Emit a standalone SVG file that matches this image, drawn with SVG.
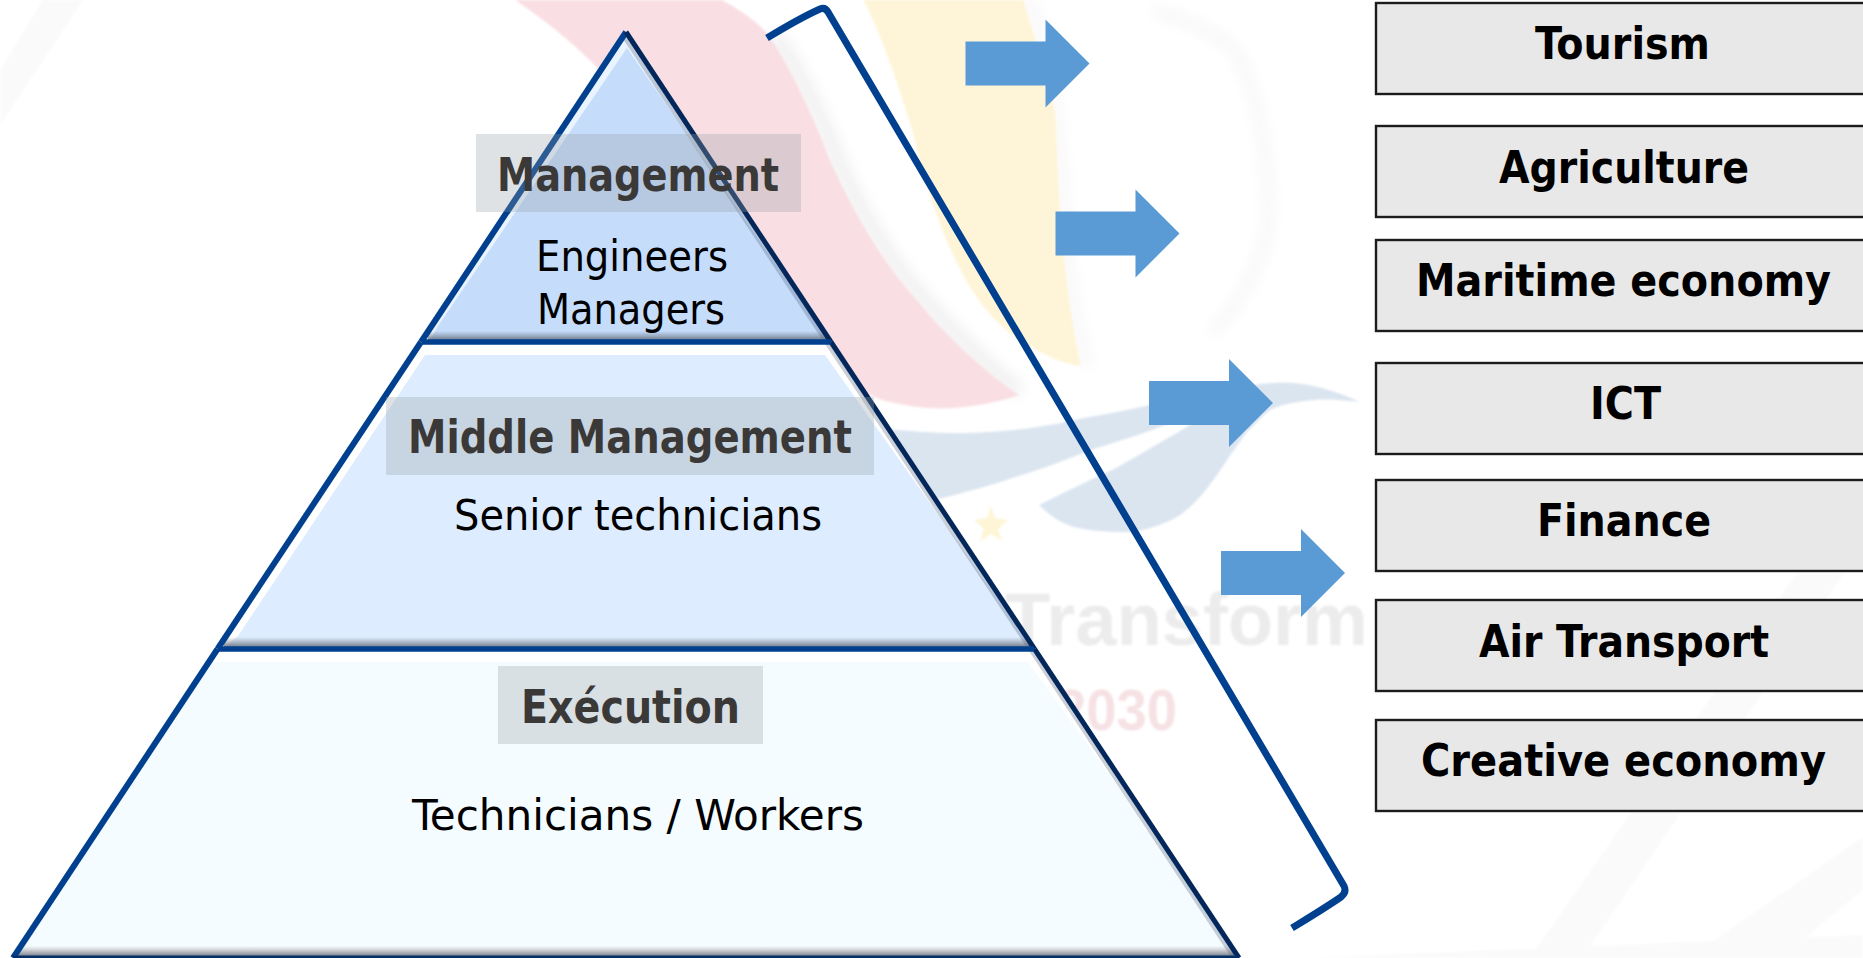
<svg xmlns="http://www.w3.org/2000/svg" width="1863" height="958" viewBox="0 0 1863 958">
<defs>
<linearGradient id="shade" x1="0" y1="0" x2="0" y2="1"><stop offset="0" stop-color="#6f7680" stop-opacity="0"/><stop offset="1" stop-color="#5a6270" stop-opacity=".8"/></linearGradient>
<filter id="soft" x="-20%" y="-20%" width="140%" height="140%"><feGaussianBlur stdDeviation="7"/></filter>
<filter id="soft1" x="-10%" y="-10%" width="120%" height="120%"><feGaussianBlur stdDeviation="1.2"/></filter>
<polygon id="arrow" points="0,22 80,22 80,0 124,44 80,88 80,66 0,66"/>
</defs>
<style>
.box{fill:#e8e8e8;stroke:#1c1c1c;stroke-width:2.4}
.boxt{font:700 45px "DejaVu Sans Condensed","DejaVu Sans",sans-serif;fill:#000}
.head{font:700 46px "DejaVu Sans Condensed","DejaVu Sans",sans-serif;fill:#3b3838}
.body{font:400 43px "DejaVu Sans Condensed","DejaVu Sans",sans-serif;fill:#000}
.veil{fill:#96a0a4;fill-opacity:.3}
.edgeL{stroke:#00408f;stroke-width:6;fill:none}
.edgeR{stroke:#03275a;stroke-width:5;fill:none}
.edgeS{stroke:#53647f;stroke-opacity:.3;stroke-width:4;fill:none}
.arw{fill:#5b9bd5}
.bracket{fill:none;stroke:#00408f;stroke-width:7;stroke-linejoin:round}
</style>
<rect width="1863" height="958" fill="#fff"/>
<g id="watermark">
<g filter="url(#soft1)" fill="#fafafa">
<polygon points="0,125 83,0 43,0 0,70"/>
<polygon points="1797,573 1844,573 1582,958 1530,958"/>
<polygon points="1863,837 1689,958 1780,958 1863,890"/>
<polygon points="1308,958 1863,935 1863,958"/>
</g>
<g filter="url(#soft)" fill="none" stroke="#f6f6f8" stroke-width="10">
<path d="M1154 10 C1200 25 1225 40 1235 50 C1262 100 1272 180 1267 233 C1255 280 1235 310 1212 333"/>
<path d="M1028 0 C1045 40 1060 120 1064 210 C1068 290 1078 340 1088 366"/>
</g>
<path filter="url(#soft)" fill="none" stroke="#efefef" stroke-width="14" d="M775 35 C800 70 825 125 840 165 C860 210 890 262 925 300 C955 335 990 368 1020 392"/>
<path d="M515 0 C590 50 640 110 700 190 C770 310 840 395 895 403 C930 412 975 410 1019 395 C985 372 945 335 917 300 C880 260 850 205 830 160 C815 120 790 65 767 33 C755 20 740 10 722 0Z" fill="#f9dfe3" filter="url(#soft1)"/>
<path d="M863 0 C880 30 900 90 913 133 C925 190 945 240 959 267 C975 300 1000 333 1040 352 C1055 360 1070 365 1081 366 C1066 300 1058 210 1056 120 C1050 70 1030 30 1024 0Z" fill="#fef5d8" filter="url(#soft1)"/>
<path d="M880 428 C920 433 960 434 988 432 C1020 430 1050 426 1074 420 C1105 414 1130 410 1150 405 C1190 395 1240 385 1273 383 C1300 380 1335 390 1360 402 C1340 400 1325 399 1315 400 C1295 402 1282 404 1270 410 C1258 420 1252 428 1246 433 C1240 442 1234 450 1229 457 C1222 468 1215 478 1208 487 C1198 500 1188 510 1177 517 C1160 526 1140 532 1125 532 C1105 532 1085 530 1074 527 C1058 522 1048 514 1039 505 C1065 492 1090 480 1112 470 C1135 458 1155 445 1177 433 C1190 425 1200 418 1210 412 C1195 414 1178 420 1160 427 C1140 435 1115 442 1091 450 C1065 460 1040 470 1015 477 C990 486 965 492 943 498 C920 502 905 495 900 480Z" fill="#dbe5f0" filter="url(#soft1)"/>
<polygon points="991,506 995,518 1008,520 998,529 1002,541 991,534 980,541 984,529 974,520 987,518" fill="#fdf5d5" filter="url(#soft1)"/>
<text x="1005" y="645" font-family="Liberation Sans, sans-serif" font-weight="700" font-size="74" fill="#ececec" filter="url(#soft1)" textLength="363" lengthAdjust="spacingAndGlyphs">Transform</text>
<text x="1056" y="730" font-family="Liberation Sans, sans-serif" font-weight="700" font-size="58" fill="#f6e1e4" filter="url(#soft1)" textLength="121" lengthAdjust="spacingAndGlyphs">2030</text>
</g>
<g id="tier-execution">
<polygon points="217.5,649 1034.5,649 1239,958 13,958" fill="#fff"/>
<polygon points="205,662 1028,662 1235,948 24,948 30,930" fill="#f5fcff"/>
<rect x="18" y="946" width="1216" height="10" fill="url(#shade)"/>
<path class="edgeS" d="M1030 649 L1234 958"/>
<path class="edgeL" d="M217.5 649 L13 958"/>
<path class="edgeR" d="M1034.5 649 L1239 958"/>
<path d="M13 957 H1239" stroke="#052f66" stroke-width="3"/>
</g>
<g id="tier-middle">
<polygon points="421,342 831,342 1034.5,649 217.5,649" fill="#fff"/>
<polygon points="425,355 825,355 1032,647 225,647 238,636" fill="#ddecfe"/>
<rect x="224" y="637" width="806" height="10" fill="url(#shade)"/>
<path class="edgeS" d="M826 342 L1030 649"/>
<path class="edgeL" d="M421 342 L217.5 649"/>
<path class="edgeR" d="M831 342 L1034.5 649"/>
<path d="M218 649 H1034" stroke="#00408f" stroke-width="5.5"/>
</g>
<g id="tier-management">
<polygon points="626,32 831,342 421,342" fill="#eaf4ff"/>
<polygon points="627,48 828,340 430,340 438,326" fill="#c5dcfb"/>
<rect x="428" y="331" width="398" height="9" fill="url(#shade)"/>
<path class="edgeS" d="M622 34 L826 342"/>
<path class="edgeL" d="M626 32 L421 342"/>
<path class="edgeR" d="M626 32 L831 342"/>
<path d="M422 342 H831" stroke="#00408f" stroke-width="5.5"/>
</g>
<g id="label-management">
<rect class="veil" x="476" y="134" width="325" height="78"/>
<text class="head" x="497" y="191" textLength="282" lengthAdjust="spacingAndGlyphs">Management</text>
<text class="body" x="536" y="271" textLength="192" lengthAdjust="spacingAndGlyphs">Engineers</text>
<text class="body" x="537" y="324" textLength="188" lengthAdjust="spacingAndGlyphs">Managers</text>
</g>
<g id="label-middle">
<rect class="veil" x="386" y="397" width="488" height="78"/>
<text class="head" x="408" y="453" textLength="444" lengthAdjust="spacingAndGlyphs">Middle Management</text>
<text class="body" x="454" y="530" textLength="368" lengthAdjust="spacingAndGlyphs">Senior technicians</text>
</g>
<g id="label-execution">
<rect class="veil" x="498" y="666" width="265" height="78"/>
<text class="head" x="521" y="723" textLength="219" lengthAdjust="spacingAndGlyphs">Exécution</text>
<text class="body" x="412" y="830" textLength="452" lengthAdjust="spacingAndGlyphs">Technicians / Workers</text>
</g>
<g id="connectors">
<path class="bracket" d="M767 38 Q800 18 820 9 Q825 7 828 12 L1344 886 Q1347 892 1341 897 C1325 908 1310 917 1292 928"/>
<use href="#arrow" class="arw" transform="translate(965.5 19.5)"/>
<use href="#arrow" class="arw" transform="translate(1055.5 189.5)"/>
<use href="#arrow" class="arw" transform="translate(1149 359)"/>
<use href="#arrow" class="arw" transform="translate(1221 529)"/>
</g>
<g id="sector-tourism"><rect class="box" x="1376" y="3" width="500" height="91"/><text class="boxt" x="1535" y="59" textLength="175" lengthAdjust="spacingAndGlyphs">Tourism</text></g>
<g id="sector-agriculture"><rect class="box" x="1376" y="126" width="500" height="91"/><text class="boxt" x="1499" y="183" textLength="250" lengthAdjust="spacingAndGlyphs">Agriculture</text></g>
<g id="sector-maritime"><rect class="box" x="1376" y="240" width="500" height="91"/><text class="boxt" x="1416" y="296" textLength="415" lengthAdjust="spacingAndGlyphs">Maritime economy</text></g>
<g id="sector-ict"><rect class="box" x="1376" y="363" width="500" height="91"/><text class="boxt" x="1590" y="419" textLength="71" lengthAdjust="spacingAndGlyphs">ICT</text></g>
<g id="sector-finance"><rect class="box" x="1376" y="480" width="500" height="91"/><text class="boxt" x="1537" y="536" textLength="174" lengthAdjust="spacingAndGlyphs">Finance</text></g>
<g id="sector-air"><rect class="box" x="1376" y="600" width="500" height="91"/><text class="boxt" x="1479" y="657" textLength="290" lengthAdjust="spacingAndGlyphs">Air Transport</text></g>
<g id="sector-creative"><rect class="box" x="1376" y="720" width="500" height="91"/><text class="boxt" x="1421" y="776" textLength="405" lengthAdjust="spacingAndGlyphs">Creative economy</text></g>
</svg>
